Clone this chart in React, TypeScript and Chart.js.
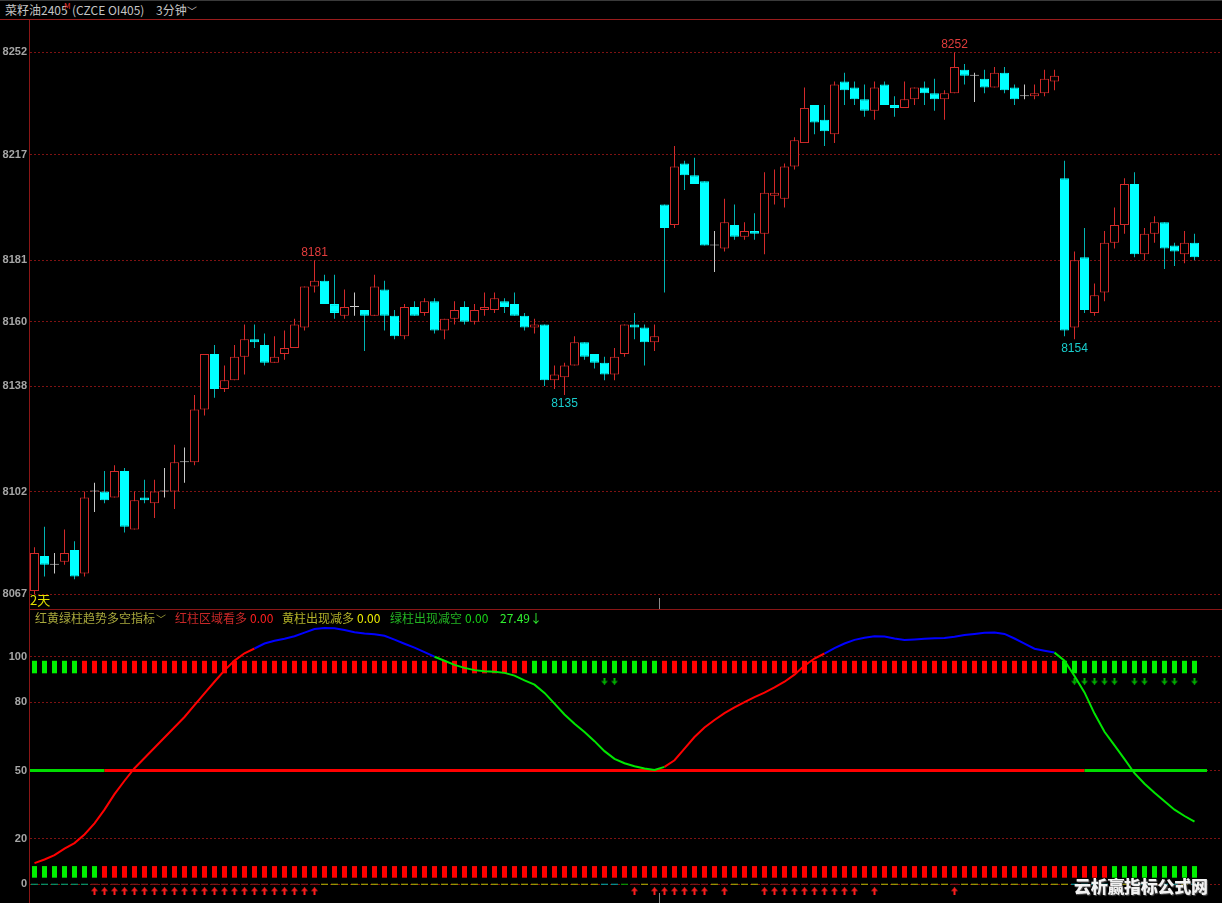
import React, { useEffect, useRef } from 'react';
import { Chart, registerables } from 'chart.js';

Chart.register(...registerables);

// ---------------- price data (3-minute candles) ----------------
const OPEN = [
  8068, 8080, 8077, 8078, 8082, 8074, 8102, 8102, 8100, 8109,
  8089, 8100, 8098, 8102, 8102, 8112, 8112, 8130, 8149, 8137,
  8140, 8148, 8154, 8152, 8146, 8149, 8151, 8158, 8172, 8174,
  8166, 8162, 8165, 8164, 8162, 8171, 8162, 8155, 8165, 8163,
  8167, 8157, 8161, 8165, 8160, 8164, 8164, 8167, 8166, 8162,
  8158, 8159, 8140, 8141, 8145, 8153, 8149, 8146, 8142, 8149,
  8159, 8158, 8153, 8200, 8193, 8214, 8210, 8208, 8186, 8185,
  8193, 8189, 8191, 8190, 8203, 8202, 8213, 8221, 8234, 8229,
  8224, 8242, 8240, 8236, 8232, 8241, 8234, 8233, 8236, 8240,
  8238, 8236, 8238, 8246, 8244, 8243, 8240, 8245, 8240, 8237,
  8237, 8238, 8242, 8209, 8158, 8182, 8163, 8170, 8187, 8193,
  8207, 8183, 8190, 8194, 8186, 8183, 8187,
];
const HIGH = [
  8083, 8090, 8081, 8089, 8085, 8102, 8105, 8109, 8111, 8110,
  8102, 8106, 8106, 8110, 8118, 8117, 8135, 8149, 8152, 8145,
  8152, 8159, 8159, 8156, 8155, 8157, 8161, 8172, 8181, 8176,
  8176, 8171, 8170, 8164, 8176, 8174, 8164, 8166, 8167, 8168,
  8168, 8161, 8167, 8167, 8166, 8170, 8170, 8168, 8170, 8163,
  8161, 8159, 8145, 8146, 8155, 8153, 8149, 8148, 8151, 8159,
  8163, 8159, 8159, 8200, 8220, 8215, 8216, 8208, 8191, 8202,
  8200, 8194, 8197, 8211, 8212, 8214, 8223, 8240, 8234, 8234,
  8242, 8245, 8242, 8241, 8242, 8242, 8237, 8242, 8240, 8242,
  8243, 8239, 8252, 8248, 8245, 8246, 8247, 8247, 8241, 8241,
  8241, 8246, 8246, 8215, 8184, 8192, 8173, 8191, 8199, 8209,
  8211, 8192, 8196, 8194, 8187, 8191, 8190,
];
const LOW = [
  8067, 8073, 8074, 8077, 8072, 8073, 8095, 8098, 8100, 8088,
  8089, 8098, 8093, 8100, 8096, 8105, 8111, 8128, 8134, 8136,
  8140, 8142, 8151, 8145, 8146, 8147, 8151, 8157, 8170, 8166,
  8161, 8161, 8162, 8150, 8162, 8157, 8154, 8154, 8162, 8162,
  8156, 8154, 8159, 8159, 8159, 8162, 8163, 8163, 8162, 8157,
  8156, 8138, 8137, 8135, 8145, 8147, 8144, 8140, 8140, 8148,
  8154, 8145, 8150, 8170, 8192, 8205, 8207, 8186, 8177, 8184,
  8188, 8188, 8188, 8183, 8200, 8199, 8212, 8221, 8224, 8220,
  8221, 8234, 8234, 8230, 8229, 8234, 8230, 8233, 8234, 8234,
  8232, 8229, 8238, 8241, 8235, 8238, 8240, 8238, 8234, 8236,
  8236, 8237, 8239, 8155, 8154, 8163, 8162, 8167, 8185, 8190,
  8182, 8181, 8187, 8178, 8179, 8180, 8181,
];
const CLOSE = [
  8081, 8077, 8077, 8081, 8073, 8100, 8102, 8099, 8109, 8090,
  8099, 8099, 8102, 8102, 8112, 8112, 8130, 8149, 8137, 8140,
  8148, 8154, 8153, 8146, 8148, 8151, 8159, 8172, 8174, 8166,
  8163, 8165, 8165, 8162, 8172, 8162, 8155, 8165, 8162, 8167,
  8157, 8161, 8164, 8160, 8164, 8165, 8168, 8165, 8162, 8158,
  8159, 8140, 8142, 8145, 8153, 8148, 8146, 8142, 8148, 8159,
  8158, 8153, 8155, 8192, 8213, 8210, 8207, 8186, 8186, 8194,
  8189, 8191, 8190, 8204, 8204, 8213, 8222, 8233, 8228, 8225,
  8241, 8239, 8236, 8232, 8240, 8234, 8233, 8236, 8240, 8238,
  8236, 8238, 8247, 8244, 8244, 8240, 8245, 8239, 8236, 8237,
  8238, 8243, 8244, 8157, 8181, 8164, 8169, 8187, 8193, 8207,
  8183, 8190, 8194, 8185, 8184, 8187, 8182,
];
const PRICE_TICKS = [8067, 8102, 8138, 8160, 8181, 8217, 8252];
const PRICE_MIN = 8061.88;
const PRICE_MAX = 8263.03;
const HIGH_MARKS = [28, 92];
const LOW_MARKS = [53, 104];
const SESSION_STARTS = [63];

// ---------------- indicator data ----------------
const CURVE = [
  9.3, 10.9, 12.8, 15.7, 18.1, 21.9, 26.8, 32.8, 39.6, 45.5,
  51, 55.5, 60, 64.5, 69, 73.5, 78.7, 83.9, 89, 94,
  98.3, 101.5, 103.6, 105.8, 107, 107.9, 109, 110.6, 112.2, 112.6,
  112.5, 111.7, 110.7, 110.2, 109.9, 109.2, 107.5, 105.7, 104, 102,
  100, 98.2, 96.4, 95.1, 94.1, 93.6, 93.4, 92.9, 91.7, 89.6,
  87.7, 84.1, 79.4, 74.6, 70.5, 66.9, 62.9, 58.5, 55.1, 53.2,
  51.9, 50.9, 50.2, 51.6, 54.5, 59.6, 64.7, 68.9, 72.2, 75.2,
  77.7, 80, 82.2, 84.2, 86.5, 89, 92.1, 96.1, 99.2, 101.4,
  103.8, 105.8, 107.4, 108.3, 109, 108.9, 108, 107.3, 107.6, 107.9,
  108.1, 108.2, 108.8, 109.5, 110, 110.5, 110.6, 110, 108, 105.7,
  103.5, 102.6, 101.8, 98.2, 91.5, 84.3, 75, 67, 61, 55,
  48.8, 44.2, 40.2, 36.5, 32.8, 30, 27.49,
];
const CURVE_RUNS: [string, number][] = [['r', 22], ['b', 18], ['g', 23], ['r', 16], ['b', 23], ['g', 15]];
const TOP_RUNS: [string, number][] = [['g', 5], ['r', 45], ['g', 13], ['r', 40], ['g', 14]];
const BOTTOM_RUNS: [string, number][] = [['g', 7], ['r', 101], ['g', 9]];
const MID_RUNS: [string, number][] = [['g', 7], ['r', 98], ['g', 12]];
const BASE_RUNS: [string, number][] = [
  ['t', 6], ['d', 23], ['y', 28], ['c', 2], ['g', 1], ['d', 1], ['y', 1], ['d', 6],
  ['y', 1], ['d', 1], ['y', 3], ['d', 10], ['y', 1], ['d', 1], ['y', 7], ['d', 1],
  ['y', 11], ['c', 5], ['y', 1], ['c', 2], ['y', 1], ['c', 2], ['y', 1], ['c', 1],
];
const UP_ARROWS = [
  6, 7, 8, 9, 10, 11, 12, 13, 14, 15, 16, 17, 18, 19, 20, 21, 22, 23, 24, 25, 26, 27, 28,
  60, 62, 63, 64, 65, 66, 67, 69, 73, 74, 75, 76, 77, 78, 79, 80, 81, 82, 84, 92,
];
const DOWN_ARROWS = [57, 58, 104, 105, 106, 107, 108, 110, 111, 113, 114, 116];
const TOP_BAND = [92.7, 98.2];
const BOTTOM_BAND = [2.9, 8.0];
const BASE_BAND = [-0.25, 0.25];
const MID_LEVEL = 50;
const MID_END = 117.25;
const DOWN_ARROW_LEVEL = 89.3;
const UP_ARROW_LEVEL = -3.1;
const IND_TICKS = [0, 20, 50, 80, 100];
const IND_MIN = -8.22;
const IND_MAX = 120.52;
const LEGEND_VALUES = [0, 0, 0];

const X_MIN = -0.45;
const X_MAX = 118.75;

const W = 1222;
const PRICE_TOP = 20;
const PRICE_H = 589;
const IND_TOP = 610;
const IND_H = 293;

const FONT_CJK = '"Noto Sans CJK SC", "Noto Sans", sans-serif';
const GRID_RED = '#7e1212';

function expand(runs: [string, number][]): string[] {
  const out: string[] = [];
  runs.forEach(([s, n]) => {
    for (let k = 0; k < n; k++) out.push(s);
  });
  return out;
}

function makeArrow(color: string, up: boolean): HTMLCanvasElement {
  const c = document.createElement('canvas');
  c.width = 7;
  c.height = up ? 8 : 7;
  const g = c.getContext('2d')!;
  g.fillStyle = color;
  g.beginPath();
  if (up) {
    g.moveTo(3.5, 0);
    g.lineTo(7, 3.8);
    g.lineTo(0, 3.8);
    g.closePath();
    g.fill();
    g.fillRect(2.5, 3.5, 2, 4.5);
  } else {
    g.moveTo(3.5, 7);
    g.lineTo(7, 3.4);
    g.lineTo(0, 3.4);
    g.closePath();
    g.fill();
    g.fillRect(2.5, 0, 2, 3.8);
  }
  return c;
}

function sessionPlugin(len: number) {
  return {
    id: 'sessionBreak' + len,
    afterDatasetsDraw(chart: any) {
      const { ctx, chartArea, scales } = chart;
      ctx.save();
      ctx.strokeStyle = '#8a8a8a';
      ctx.lineWidth = 1;
      SESSION_STARTS.forEach((s) => {
        const px = Math.floor(scales.x.getPixelForValue(s - 0.5)) + 0.5;
        ctx.beginPath();
        ctx.moveTo(px, chartArea.bottom - len);
        ctx.lineTo(px, chartArea.bottom);
        ctx.stroke();
      });
      ctx.restore();
    },
  };
}

const hiLoPlugin = {
  id: 'hiLo',
  afterDatasetsDraw(chart: any) {
    const { ctx, scales } = chart;
    ctx.save();
    ctx.font = '12px "Liberation Sans", Arial, sans-serif';
    ctx.textAlign = 'center';
    HIGH_MARKS.forEach((i) => {
      ctx.fillStyle = '#e23c3c';
      ctx.textBaseline = 'bottom';
      ctx.fillText(String(HIGH[i]), scales.x.getPixelForValue(i), scales.y.getPixelForValue(HIGH[i]) - 2);
    });
    LOW_MARKS.forEach((i) => {
      ctx.fillStyle = '#19cccc';
      ctx.textBaseline = 'top';
      ctx.fillText(String(LOW[i]), scales.x.getPixelForValue(i), scales.y.getPixelForValue(LOW[i]) + 3);
    });
    ctx.restore();
  },
};

function yAxis(min: number, max: number, ticks: number[]) {
  return {
    type: 'linear',
    position: 'left',
    min,
    max,
    afterBuildTicks: (s: any) => {
      s.ticks = ticks.map((v) => ({ value: v }));
    },
    afterFit: (s: any) => {
      s.width = 30;
      s.paddingTop = 0;
      s.paddingBottom = 0;
    },
    ticks: {
      color: '#a6a6a6',
      autoSkip: false,
      padding: 3,
      font: { family: '"Liberation Sans", Arial, sans-serif', size: 11, weight: 'bold' },
      callback: (v: any) => String(v),
    },
    grid: { color: GRID_RED, lineWidth: 1, drawTicks: false },
    border: { display: false, dash: [2, 2] },
  };
}

const xAxis = { type: 'linear', min: X_MIN, max: X_MAX, display: false, offset: false, grid: { display: false } };

export default function App() {
  const priceRef = useRef<HTMLCanvasElement>(null);
  const indRef = useRef<HTMLCanvasElement>(null);

  useEffect(() => {
    document.body.style.margin = '0';
    document.body.style.background = '#000';

    const dir = OPEN.map((o, i) => (CLOSE[i] > o ? 1 : CLOSE[i] < o ? -1 : 0));
    const fill = dir.map((d) => (d > 0 ? '#000000' : d < 0 ? '#00ffff' : '#c8c8c8'));
    const edge = dir.map((d) => (d > 0 ? '#d42a2a' : d < 0 ? '#00ffff' : '#c8c8c8'));
    const wick = dir.map((d) => (d > 0 ? '#d42a2a' : d < 0 ? '#00b4b4' : '#c8c8c8'));

    const price = new Chart(priceRef.current!, {
      type: 'bar',
      data: {
        datasets: [
          {
            data: OPEN.map((o, i) => ({ x: i, y: [Math.min(o, CLOSE[i]), Math.max(o, CLOSE[i])] })),
            backgroundColor: fill,
            borderColor: edge,
            borderWidth: 1,
            borderSkipped: false,
            barThickness: 9,
            minBarLength: 1,
            grouped: false,
            inflateAmount: 0,
            order: 0,
          } as any,
          {
            data: LOW.map((l, i) => ({ x: i, y: [l, HIGH[i]] })),
            backgroundColor: wick,
            borderWidth: 0,
            barThickness: 1,
            minBarLength: 1,
            grouped: false,
            inflateAmount: 0,
            order: 1,
          } as any,
        ],
      },
      options: {
        animation: false,
        responsive: false,
        devicePixelRatio: 1,
        layout: { padding: 0, autoPadding: false },
        plugins: { legend: { display: false }, tooltip: { enabled: false } },
        scales: { x: xAxis as any, y: yAxis(PRICE_MIN, PRICE_MAX, PRICE_TICKS) as any },
      },
      plugins: [hiLoPlugin, sessionPlugin(11)],
    });

    const curveState = expand(CURVE_RUNS);
    const topState = expand(TOP_RUNS);
    const bottomState = expand(BOTTOM_RUNS);
    const midState = expand(MID_RUNS);
    const baseState = expand(BASE_RUNS);
    const curveColor: Record<string, string> = { r: '#ff0000', b: '#0000ff', g: '#00e600' };
    const blockColor: Record<string, string> = { r: '#ff0000', g: '#00f000' };
    const lineColor: Record<string, string> = { r: '#ff0000', g: '#00dc00' };
    const baseColor: Record<string, string> = {
      t: '#00a070', d: '#8c1414', y: '#a8a800', c: '#00a0a0', g: '#00a000',
    };
    const idx = CURVE.map((_, i) => i);
    const midPoints = [
      { x: X_MIN, y: MID_LEVEL },
      ...idx.map((i) => ({ x: i, y: MID_LEVEL })),
      { x: MID_END, y: MID_LEVEL },
    ];

    const ind = new Chart(indRef.current!, {
      type: 'bar',
      data: {
        datasets: [
          {
            type: 'line',
            data: CURVE.map((v, i) => ({ x: i, y: v })),
            borderColor: '#ff0000',
            borderWidth: 2,
            pointRadius: 0,
            tension: 0,
            segment: { borderColor: (c: any) => curveColor[curveState[c.p0DataIndex]] },
            order: 0,
          } as any,
          {
            type: 'line',
            data: midPoints,
            borderColor: '#ff0000',
            borderWidth: 3,
            pointRadius: 0,
            segment: {
              borderColor: (c: any) =>
                lineColor[midState[Math.min(Math.max(c.p0DataIndex - 1, 0), midState.length - 1)]],
            },
            order: 1,
          } as any,
          {
            type: 'line',
            showLine: false,
            data: DOWN_ARROWS.map((i) => ({ x: i, y: DOWN_ARROW_LEVEL })),
            pointStyle: makeArrow('#00b000', false),
            pointRadius: 4,
            order: 2,
          } as any,
          {
            type: 'line',
            showLine: false,
            data: UP_ARROWS.map((i) => ({ x: i, y: UP_ARROW_LEVEL })),
            pointStyle: makeArrow('#ff1e1e', true),
            pointRadius: 4,
            order: 2,
          } as any,
          {
            data: idx.map((i) => ({ x: i, y: TOP_BAND })),
            backgroundColor: topState.map((s) => blockColor[s]),
            borderWidth: 0,
            barThickness: 5,
            grouped: false,
            inflateAmount: 0,
            order: 5,
          } as any,
          {
            data: idx.map((i) => ({ x: i, y: BOTTOM_BAND })),
            backgroundColor: bottomState.map((s) => blockColor[s]),
            borderWidth: 0,
            barThickness: 5,
            grouped: false,
            inflateAmount: 0,
            order: 5,
          } as any,
          {
            data: idx.map((i) => ({ x: i, y: BASE_BAND })),
            backgroundColor: baseState.map((s) => baseColor[s]),
            borderWidth: 0,
            barThickness: 7,
            minBarLength: 1,
            grouped: false,
            inflateAmount: 0,
            order: 6,
          } as any,
        ],
      },
      options: {
        animation: false,
        responsive: false,
        devicePixelRatio: 1,
        layout: { padding: 0, autoPadding: false },
        plugins: { legend: { display: false }, tooltip: { enabled: false } },
        scales: { x: xAxis as any, y: yAxis(IND_MIN, IND_MAX, IND_TICKS) as any },
      },
      plugins: [sessionPlugin(10)],
    });

    return () => {
      price.destroy();
      ind.destroy();
    };
  }, []);

  const txt = (s: React.CSSProperties): React.CSSProperties => ({
    position: 'absolute',
    whiteSpace: 'nowrap',
    fontFamily: FONT_CJK,
    fontSize: 12,
    lineHeight: '16px',
    ...s,
  });

  const legend = [
    { text: '红黄绿柱趋势多空指标', left: 35, color: '#a8a83c' },
    { text: '红柱区域看多', left: 175, color: '#c82828' },
    { text: LEGEND_VALUES[0].toFixed(2), left: 250, color: '#ff2020' },
    { text: '黄柱出现减多', left: 282, color: '#b0b028' },
    { text: LEGEND_VALUES[1].toFixed(2), left: 357, color: '#eeee00' },
    { text: '绿柱出现减空', left: 390, color: '#22b422' },
    { text: LEGEND_VALUES[2].toFixed(2), left: 465, color: '#18d218' },
    { text: CURVE[CURVE.length - 1].toFixed(2) + '↓', left: 500, color: '#30f030' },
  ];

  return (
    <div style={{ position: 'fixed', left: 0, top: 0, width: W, height: 903, background: '#000', overflow: 'hidden' }}>
      <div style={{ position: 'absolute', left: 0, top: 0, width: W, height: 1, background: '#3a3a3a' }} />
      <span style={txt({ left: 5, top: 2, color: '#c4c4c4' })}>菜籽油2405</span>
      <span style={txt({ left: 64, top: 1, color: '#e03030', fontSize: 8, lineHeight: '10px' })}>M</span>
      <span style={txt({ left: 72, top: 2, color: '#c4c4c4' })}>(CZCE OI405)</span>
      <span style={txt({ left: 156, top: 2, color: '#c4c4c4' })}>3分钟</span>
      <span style={txt({ left: 187, top: 3, color: '#c4c4c4', fontSize: 10 })}>﹀</span>
      <div style={{ position: 'absolute', left: 0, top: 19, width: W, height: 1, background: '#9a1c1c' }} />

      <canvas ref={priceRef} width={W} height={PRICE_H} style={{ position: 'absolute', left: 0, top: PRICE_TOP }} />
      <canvas ref={indRef} width={W} height={IND_H} style={{ position: 'absolute', left: 0, top: IND_TOP }} />

      <div style={{ position: 'absolute', left: 30, top: 609, width: W - 30, height: 1, background: '#8a1616' }} />
      <div style={{ position: 'absolute', left: 29, top: 20, width: 1, height: 883, background: '#8a1616' }} />

      <span style={txt({ left: 30, top: 592, color: '#e0e000', fontSize: 13 })}>2天</span>
      {legend.map((l, k) => (
        <span key={k} style={txt({ left: l.left, top: 610, color: l.color })}>
          {l.text}
        </span>
      ))}
      <span style={txt({ left: 156, top: 611, color: '#a8a83c', fontSize: 10 })}>﹀</span>
      <span
        style={txt({
          left: 1074,
          top: 876,
          color: '#f2f2f2',
          fontSize: 17,
          lineHeight: '20px',
          fontWeight: 900,
          letterSpacing: '-0.3px',
          textShadow: '1px 1px 1px #505050',
        })}
      >
        云析赢指标公式网
      </span>
    </div>
  );
}
